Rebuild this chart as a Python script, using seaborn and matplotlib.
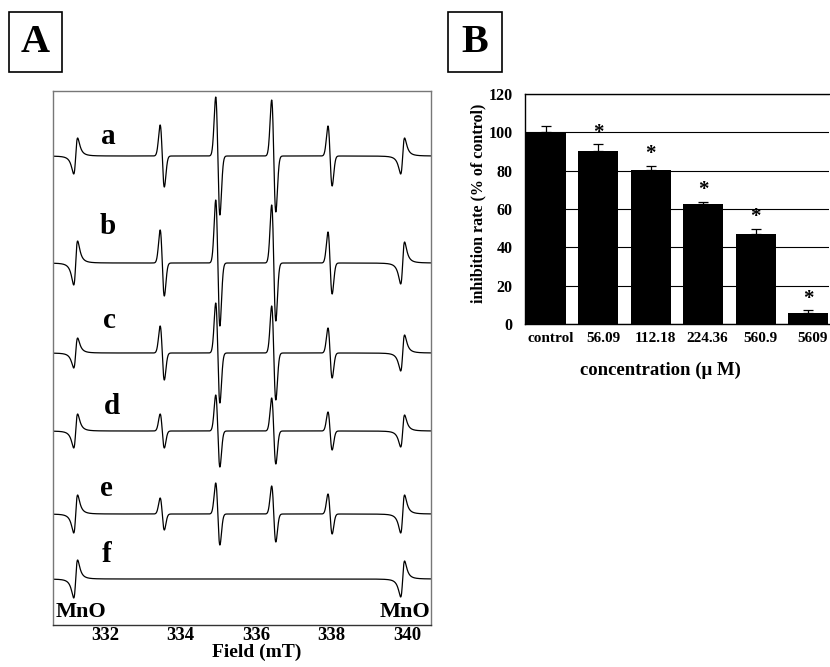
import numpy as np
import pandas as pd
import matplotlib
matplotlib.use('Agg')
import matplotlib.pyplot as plt
import seaborn as sns
from matplotlib.patches import Rectangle

# ---- panel A: ESR spectra (line positions in mT, half peak-to-peak heights) ----
trace_labels = ['a', 'b', 'c', 'd', 'e', 'f']
line_fields = [331.23, 333.52, 334.99, 336.47, 337.96, 339.88]   # MnO, 4 DMPO-OH lines, MnO
line_kinds = ['MnO', 'DMPO', 'DMPO', 'DMPO', 'DMPO', 'MnO']
amp_a = [18, 31, 59, 56, 30, 18]
amp_b = [22, 33, 63, 58, 31, 21]
amp_c = [15, 27, 50, 47, 25, 18]
amp_d = [17, 17, 36, 33, 19, 16]
amp_e = [19, 16, 31, 28, 20, 19]
amp_f = [19, 0, 0, 0, 0, 18]
field_ticks = [332, 334, 336, 338, 340]

# ---- panel B: inhibition rate ----
conc_labels = ['control', '56.09', '112.18', '224.36', '560.9', '5609']
inhibition = [100.0, 90.2, 80.3, 62.6, 46.8, 5.9]
inhibition_err = [3.4, 3.5, 2.3, 1.2, 3.0, 1.4]
significant = [False, True, True, True, True, True]

W, H = 830, 667


def fx(x):
    return x / W


def fy(y):
    return 1 - y / H


sns.set_style('white')
plt.rcParams['font.family'] = ['Liberation Serif', 'DejaVu Serif']
plt.rcParams['font.weight'] = 'bold'
plt.rcParams['text.color'] = 'black'
plt.rcParams['axes.labelcolor'] = 'black'
plt.rcParams['xtick.color'] = 'black'
plt.rcParams['ytick.color'] = 'black'

fig = plt.figure(figsize=(8.3, 6.67), dpi=100)

# ---------------- panel A ----------------
axA = fig.add_axes([fx(53), fy(625), 378 / W, 534 / H])
field = np.linspace(330.63, 340.63, 3000)
baselines = [-65, -172, -262, -340, -423, -488]
label_pos = [(332.09, -46), (332.08, -136), (332.13, -229),
             (332.18, -316), (332.05, -397), (332.05, -464)]
sigma_dmpo = 0.055
gamma_mno = 0.09

for lab, amps, base, (lx, ly) in zip(trace_labels,
                                     [amp_a, amp_b, amp_c, amp_d, amp_e, amp_f],
                                     baselines, label_pos):
    sig = np.zeros_like(field)
    for f0, kind, a in zip(line_fields, line_kinds, amps):
        if kind == 'DMPO':
            u = (field - f0) / sigma_dmpo
            sig += -a * u * np.exp(-u ** 2 / 2) * np.exp(0.5)
        else:
            u = (field - f0) / gamma_mno
            sig += a * 2 * u / (1 + u ** 2) ** 2 / 0.6495
    df = pd.DataFrame({'field': field, 'signal': sig + base})
    sns.lineplot(data=df, x='field', y='signal', color='black', lw=0.9,
                 estimator=None, ax=axA)
    axA.text(lx, ly, lab, fontsize=21, fontweight='bold', ha='center', va='center')

axA.set_xlim(330.63, 340.63)
axA.set_ylim(-534, 0)
axA.set_xticks(field_ticks)
axA.set_xticklabels([str(t) for t in field_ticks], fontsize=13.5, fontweight='bold')
axA.set_yticks([])
axA.set_xlabel('')
axA.set_ylabel('')
axA.tick_params(axis='x', direction='in', length=5, width=0.8, pad=1.5, colors='black')
for s in axA.spines.values():
    s.set_color('#777777')
    s.set_linewidth(1.0)
axA.spines['bottom'].set_color('#333333')

fig.text(fx(80.5), fy(612), 'MnO', fontsize=16, fontweight='bold', ha='center', va='center')
fig.text(fx(405), fy(612), 'MnO', fontsize=16, fontweight='bold', ha='center', va='center')
fig.text(fx(257), fy(652), 'Field (mT)', fontsize=14, fontweight='bold', ha='center', va='center')

# ---------------- panel B ----------------
axB = fig.add_axes([fx(525), fy(324), 304 / W, 230 / H])
dfB = pd.DataFrame({'conc': conc_labels, 'rate': inhibition})
sns.barplot(data=dfB, x='conc', y='rate', color='black', width=0.76,
            saturation=1, edgecolor='black', linewidth=0, ax=axB, zorder=3)
xpos = np.arange(len(conc_labels))
axB.errorbar(xpos, inhibition, yerr=[np.zeros(len(inhibition)), inhibition_err],
             fmt='none', ecolor='black', elinewidth=0.9, capsize=3.5, capthick=0.9, zorder=4)
for i, (v, e, sgn) in enumerate(zip(inhibition, inhibition_err, significant)):
    if sgn:
        axB.annotate('*', xy=(i, v + e), xytext=(0, 1), textcoords='offset points',
                     ha='center', va='bottom', fontsize=15, fontweight='bold')

axB.set_xlim(-0.4, 5.4)
axB.set_ylim(0, 120)
axB.set_yticks(range(0, 121, 20))
axB.set_yticklabels([str(t) for t in range(0, 121, 20)], fontsize=11.5, fontweight='bold')
# labels sit slightly right of the bar centres in the original
axB.set_xticks(xpos + 0.086)
axB.set_xticklabels(conc_labels, fontsize=11, fontweight='bold')
axB.set_xticks(xpos[:-1] + 0.5, minor=True)
axB.tick_params(axis='x', which='major', length=0, pad=6)
axB.tick_params(axis='x', which='minor', direction='in', length=3, width=0.7)
axB.tick_params(axis='y', length=0, pad=9)
axB.yaxis.grid(True, color='black', lw=0.8, zorder=0)
axB.xaxis.grid(False)
axB.set_axisbelow(True)
axB.set_xlabel('')
axB.set_ylabel('')
for s in ['left', 'bottom', 'top']:
    axB.spines[s].set_color('black')
    axB.spines[s].set_linewidth(1.0)
axB.spines['right'].set_visible(False)

fig.text(fx(660), fy(370), 'concentration (\u03bc M)', fontsize=13.5, fontweight='bold',
         ha='center', va='center')
fig.text(fx(478), fy(203), 'inhibition rate (% of control)', fontsize=11.5,
         fontweight='bold', ha='center', va='center', rotation=90)

# ---------------- panel letters ----------------
for (x0, x1, letter) in [(9, 62, 'A'), (448, 502, 'B')]:
    fig.patches.append(Rectangle((fx(x0), fy(72)), (x1 - x0) / W, 60 / H,
                                 transform=fig.transFigure, fill=False,
                                 ec='black', lw=1.2))
    fig.text(fx((x0 + x1) / 2), fy(43), letter, fontsize=29, fontweight='bold',
             ha='center', va='center')

fig.savefig('out.png', dpi=100)
